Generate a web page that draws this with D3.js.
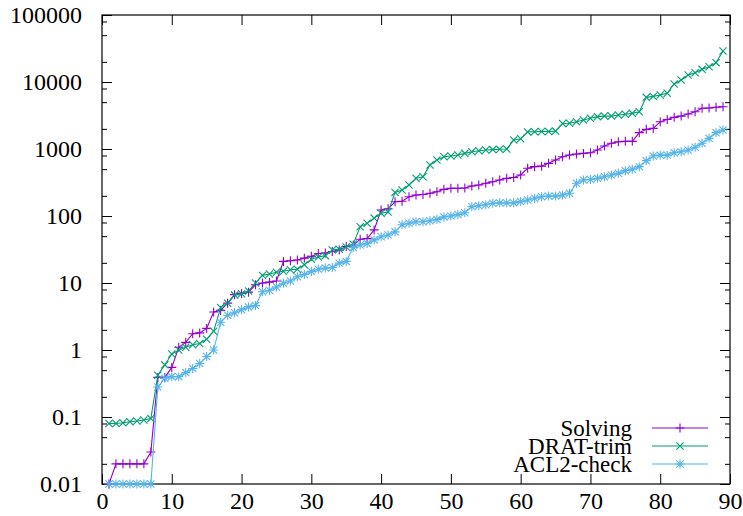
<!DOCTYPE html>
<html>
<head>
<meta charset="utf-8">
<script src="https://cdn.jsdelivr.net/npm/d3@7"></script>
<style>
  html, body { margin: 0; padding: 0; background: #fff; }
  svg { display: block; }
  svg text { font-family: "Liberation Serif", "DejaVu Serif", serif; fill: #000; }
</style>
</head>
<body>
<svg id="chart" width="743" height="516"></svg>
<script>
// ---- data ----
const xs = d3.range(1, 90); // instance index 1..89
const solving = [0.01,0.02,0.02,0.02,0.02,0.02,0.03,0.39,0.39,0.55,
  1.1,1.3,1.75,1.8,2.1,3.7,3.9,5.0,6.7,7.0,
  7.3,9.4,10,10.3,10.7,21,21.5,22,23.5,25,
  27.5,28,29.5,31,35,37,45,46,62,123,
  128,163,166,194,206,209,218,230,250,259,
  259,262,281,290,308,325,344,365,375,409,
  515,545,555,611,685,768,813,840,860,880,
  967,1110,1216,1286,1300,1300,1753,1966,2030,2557,
  2750,2970,3100,3330,3600,4050,4100,4200,4280];
const dratTrim = [0.08,0.08,0.082,0.085,0.087,0.09,0.095,0.42,0.6,0.87,
  1.0,1.1,1.2,1.25,1.45,1.9,4.3,5.0,6.6,6.9,
  7.6,10,13,13.6,14.5,15,15.8,16,18.7,22.6,
  24.5,25.6,31,32,34.5,38,69,78,93,110,
  115,225,245,290,365,386,577,685,768,787,
  813,861,912,944,966,980,990,1000,1360,1420,
  1800,1810,1820,1830,1850,2400,2420,2557,2710,2870,
  3040,3100,3100,3215,3300,3405,3600,5900,6100,6400,
  6780,9330,10700,12700,13770,15450,16930,19440,29000];
const acl2Check = [0.01,0.01,0.01,0.01,0.01,0.01,0.01,0.28,0.38,0.4,
  0.4,0.46,0.53,0.63,0.8,1.0,2.6,3.3,3.6,4.0,
  4.4,4.6,7.4,7.8,8.7,9.9,10.7,12.4,13.4,14.9,
  16,16.7,17,19.8,21,34,37,39,44,49,
  52,58,74,78,82,82,85,89,97,100,
  105,112,138,142,147,155,157,157,157,164,
  173,184,194,198,198,206,218,308,344,350,
  365,386,409,433,475,500,545,670,787,810,
  810,880,910,967,1060,1216,1442,1753,1922];
const seriesNames = ["Solving", "DRAT-trim", "ACL2-check"];
const xTicks = [0,10,20,30,40,50,60,70,80,90];
const yTicks = [0.01,0.1,1,10,100,1000,10000,100000];
const yTickLabels = ["0.01","0.1","1","10","100","1000","10000","100000"];

// ---- layout ----
const L = 102, R = 730, T = 15, B = 484;
const FONT = '"Liberation Serif", "DejaVu Serif", serif';
const colors = ["#9400d3", "#009e73", "#56b4e9"];
const markers = ["plus", "cross", "star"];
const seriesData = [solving, dratTrim, acl2Check];

const svg = d3.select("#chart");
const x = d3.scaleLinear().domain([0, 90]).range([L, R]);
const y = d3.scaleLog().domain([0.01, 100000]).range([B, T]);

const minorY = [];
for (let e = -2; e < 5; e++) [2,5,8].forEach(m => minorY.push(m * Math.pow(10, e)));

function styleAxis(g) {
  g.attr("font-family", FONT).attr("font-size", 24);
  g.select(".domain").remove();
  g.selectAll(".tick line").attr("stroke", "#000").attr("stroke-width", 1);
  g.selectAll("text").style("font-size", "24px");
}

svg.append("g").attr("transform", `translate(0,${B})`)
  .call(d3.axisBottom(x).tickValues(xTicks).tickSize(-10).tickPadding(8).tickFormat(d3.format("d")))
  .call(styleAxis);
svg.append("g").attr("transform", `translate(0,${T})`)
  .call(d3.axisTop(x).tickValues(xTicks).tickSize(-10).tickFormat(""))
  .call(styleAxis);
svg.append("g").attr("transform", `translate(${L},0)`)
  .call(d3.axisLeft(y).tickValues(yTicks).tickSize(-10).tickPadding(20)
    .tickFormat((d, i) => yTickLabels[i]))
  .call(styleAxis);
svg.append("g").attr("transform", `translate(${L},0)`)
  .call(d3.axisLeft(y).tickValues(minorY).tickSize(-5).tickFormat(""))
  .call(styleAxis);
svg.append("g").attr("transform", `translate(${R},0)`)
  .call(d3.axisRight(y).tickValues(yTicks).tickSize(-10).tickFormat(""))
  .call(styleAxis);
svg.append("g").attr("transform", `translate(${R},0)`)
  .call(d3.axisRight(y).tickValues(minorY).tickSize(-5).tickFormat(""))
  .call(styleAxis);

svg.append("rect").attr("x", L).attr("y", T).attr("width", R - L).attr("height", B - T)
  .attr("fill", "none").attr("stroke", "#000").attr("stroke-width", 1.2);

function markerPath(type, cx, cy) {
  const s = 4.5, c = 3.6;
  const plus = `M${cx - s},${cy}H${cx + s}M${cx},${cy - s}V${cy + s}`;
  const cross = `M${cx - c},${cy - c}L${cx + c},${cy + c}M${cx - c},${cy + c}L${cx + c},${cy - c}`;
  if (type === "plus") return plus;
  if (type === "cross") return cross;
  return plus + cross;
}

const line = d3.line().x(d => x(d[0])).y(d => y(d[1]));

seriesData.forEach((vals, si) => {
  const pts = xs.map((xv, i) => [xv, vals[i]]);
  const g = svg.append("g");
  g.append("path").attr("d", line(pts)).attr("fill", "none")
    .attr("stroke", colors[si]).attr("stroke-width", 1.1);
  g.selectAll("path.m").data(pts).join("path").attr("class", "m")
    .attr("d", d => markerPath(markers[si], x(d[0]), y(d[1])))
    .attr("stroke", colors[si]).attr("stroke-width", 1.1).attr("fill", "none");
});

const legY = [428, 446, 464];
seriesNames.forEach((name, i) => {
  svg.append("text").attr("x", 632).attr("y", legY[i]).attr("dy", "0.34em")
    .attr("text-anchor", "end").attr("font-family", FONT).style("font-size", "23px").text(name);
  svg.append("line").attr("x1", 652).attr("x2", 708).attr("y1", legY[i]).attr("y2", legY[i])
    .attr("stroke", colors[i]).attr("stroke-width", 1.1);
  svg.append("path").attr("d", markerPath(markers[i], 680, legY[i]))
    .attr("stroke", colors[i]).attr("stroke-width", 1.1).attr("fill", "none");
});
</script>
</body>
</html>
